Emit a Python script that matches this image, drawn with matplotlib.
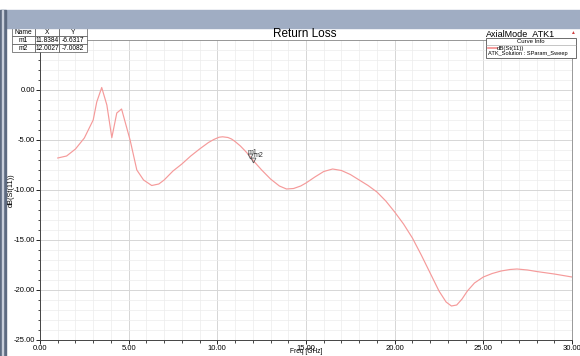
"""Return loss plot, HFSS style."""
import numpy as np
import matplotlib
matplotlib.use('Agg')
import matplotlib.pyplot as plt
from matplotlib.patches import Rectangle

plt.rcParams['font.family'] = ['Liberation Sans Narrow', 'Liberation Sans', 'DejaVu Sans']

# S11 curve
freq_ghz = [1.0, 1.5, 2.0, 2.5, 3.0, 3.2, 3.48, 3.77, 4.05, 4.33, 4.6, 5.08, 5.46, 5.84,
            6.3, 6.7, 7.0, 7.5, 8.0, 8.5, 9.0, 9.5, 9.8, 10.1, 10.3, 10.6, 10.8, 11.0, 11.3,
            11.6, 11.84, 12.0, 12.5, 13.0, 13.5, 13.9, 14.3, 14.7, 15.0, 15.5, 16.0, 16.5,
            17.0, 17.5, 18.0, 18.5, 19.0, 19.5, 20.0, 20.5, 21.0, 21.5, 22.0, 22.5, 22.9,
            23.2, 23.5, 23.8, 24.1, 24.5, 25.0, 25.5, 26.0, 26.5, 26.9, 27.5, 28.0, 29.0, 30.0]
s11_db = [-6.8, -6.6, -5.9, -4.8, -3.0, -1.2, 0.25, -1.5, -4.77, -2.3, -1.9, -5.0, -8.0, -9.0,
          -9.55, -9.4, -9.0, -8.1, -7.4, -6.6, -5.9, -5.25, -4.95, -4.72, -4.68, -4.75, -4.9,
          -5.15, -5.6, -6.15, -6.63, -7.01, -8.0, -8.9, -9.6, -9.9, -9.85, -9.6, -9.3, -8.7,
          -8.15, -7.9, -8.05, -8.45, -9.0, -9.55, -10.2, -11.1, -12.2, -13.4, -14.8, -16.5,
          -18.3, -20.1, -21.2, -21.6, -21.5, -20.9, -20.1, -19.3, -18.7, -18.35, -18.1,
          -17.95, -17.9, -18.0, -18.15, -18.4, -18.7]

marker_names = ['m1', 'm2']
marker_x = [11.8384, 12.0027]
marker_y = [-6.6317, -7.0082]

xticks = [0, 5, 10, 15, 20, 25, 30]
yticks = [0, -5, -10, -15, -20, -25]

fig = plt.figure(figsize=(5.8, 3.56), dpi=100)

# window chrome: title band + left strip
fig.patches.append(Rectangle((0, 1 - 28/356), 1, 18/356, transform=fig.transFigure,
                             color='#a0adc3', zorder=0))
fig.patches.append(Rectangle((0, 0), 6/580, 1 - 10/356, transform=fig.transFigure,
                             color='#5d6a80', zorder=0))
fig.patches.append(Rectangle((1.5/580, 0), 1.5/580, 1 - 10/356, transform=fig.transFigure,
                             color='#c8ceda', zorder=0))

ax = fig.add_axes([40/580, 1 - 340/356, 532/580, 300/356])
ax.plot(freq_ghz, s11_db, color='#f59a9a', lw=0.85)

ax.set_xlim(0, 30)
ax.set_ylim(-25, 5)
ax.set_xticks(xticks)
ax.set_xticklabels([f'{v:.2f}' for v in xticks])
ax.set_yticks(yticks)
ax.set_yticklabels([f'{v:.2f}' for v in yticks])
ax.set_xticks(np.arange(0, 31, 1), minor=True)
ax.set_yticks(np.arange(-25, 6, 1), minor=True)
ax.tick_params(which='major', direction='out', length=3, width=0.6, labelsize=5.5, pad=0.5)
ax.tick_params(which='minor', direction='out', length=1.8, width=0.5)
ax.grid(which='major', color='#d6d6d6', lw=0.7)
ax.grid(which='minor', color='#ececec', lw=0.5)
for s in ['left', 'bottom']:
    ax.spines[s].set_color('#444444'); ax.spines[s].set_linewidth(0.7)
for s in ['top', 'right']:
    ax.spines[s].set_color('#888888'); ax.spines[s].set_linewidth(0.6)
ax.set_xlabel('Freq [GHz]', fontsize=4.8)
ax.xaxis.set_label_coords(0.5, -8/300)
ax.set_ylabel('dB(St(11))', fontsize=5.3)
ax.yaxis.set_label_coords(-25/532, 0.5)

# markers
ax.plot(marker_x, marker_y, 'v', ms=3.5, mfc='none', mec='#555555', mew=0.6)
ax.text(marker_x[0] - 0.15, marker_y[0] + 0.25, marker_names[0], fontsize=5, color='#333333')
ax.text(marker_x[1] + 0.05, marker_y[1] + 0.35, marker_names[1], fontsize=5, color='#333333')

fig.text(0.525, 1 - 34/356, 'Return Loss', fontsize=8.5, ha='center', va='center')
fig.text(555/580, 1 - 34/356, 'AxialMode_ATK1', fontsize=6.5, ha='right', va='center')
fig.text(572/580, 1 - 33/356, '\u25b2', fontsize=3.5, color='#d04040', ha='center', va='center')

# marker table
tax = fig.add_axes([12/580, 1 - 52/356, 75/580, 24/356])
tax.axis('off')
rows = [['Name', 'X', 'Y']] + [[n, f'{x:.4f}', f'{y:.4f}']
                               for n, x, y in zip(marker_names, marker_x, marker_y)]
tbl = tax.table(cellText=rows, colWidths=[0.3, 0.33, 0.37], loc='center',
                bbox=[0, 0, 1, 1], cellLoc='center')
tbl.auto_set_font_size(False)
tbl.set_fontsize(4.8)
for cell in tbl.get_celld().values():
    cell.set_linewidth(0.5)
    cell.set_edgecolor('#555555')
    cell.PAD = 0.02

# curve info box
fig.patches.append(Rectangle((486/580, 1 - 58/356), 90/580, 20/356, transform=fig.transFigure,
                             facecolor='white', edgecolor='#555555', lw=0.6, zorder=5))
fig.lines.append(plt.Line2D([486/580, 576/580], [1 - 45/356, 1 - 45/356],
                            transform=fig.transFigure, color='#999999', lw=0.4, zorder=6))
fig.text(531/580, 1 - 41.5/356, 'Curve Info', fontsize=4.3, ha='center', va='center', zorder=6)
fig.lines.append(plt.Line2D([488/580, 497/580], [1 - 48/356, 1 - 48/356],
                            transform=fig.transFigure, color='#f38b8b', lw=1.2, zorder=6))
fig.text(497/580, 1 - 48.5/356, 'dB(St(11))', fontsize=4.3, ha='left', va='center', zorder=6)
fig.text(488/580, 1 - 53.5/356, 'ATK_Solution : SParam_Sweep', fontsize=4.1,
         ha='left', va='center', zorder=6)

fig.savefig('out.png', dpi=100)
